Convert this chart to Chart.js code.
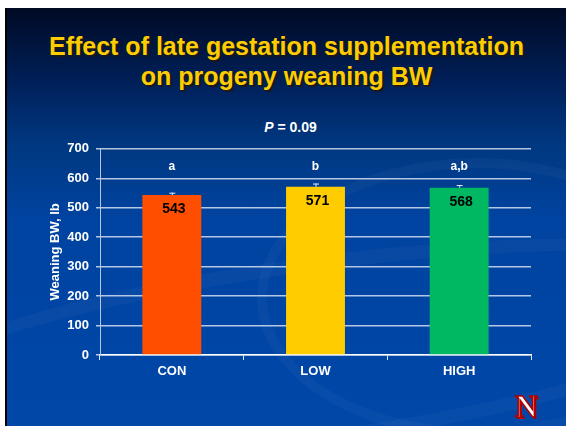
<!DOCTYPE html>
<html>
<head>
<script src="https://cdn.jsdelivr.net/npm/chart.js"></script>
<style>
  html, body { margin: 0; padding: 0; background: #fff; width: 566px; height: 426px; overflow: hidden; }
  #slide {
    position: absolute; left: 5px; top: 8px; width: 561px; height: 418px;
    border-left: 2px solid #000; box-sizing: border-box; overflow: hidden;
    background: linear-gradient(to bottom, #000a24 0%, #00205a 18%, #00377f 32%, #0043a0 50%, #0047a8 100%);
    font-family: "Liberation Sans", Arial, sans-serif;
  }
  .swoosh { position: absolute; border-radius: 50%; border: 14px solid rgba(255,255,255,0.03); }
  #title {
    position: absolute; left: 0; top: 23px; width: 100%; text-align: center;
    color: #ffcc00; font-weight: bold; font-size: 25px; line-height: 30px;
    text-shadow: 2px 2px 1px #1a1a1a;
  }
  #pval { position: absolute; left: 0; top: 111px; width: 100%; text-align: center; color: #fff; font-weight: bold; font-size: 14px; margin-left: 4px; }
  #wrap { position: absolute; left: 41px; top: 126px; width: 485px; height: 256px; }
  #logo {
    position: absolute; left: 508px; top: 381px; font-family: "Liberation Serif", "DejaVu Serif", serif;
    font-weight: bold; font-size: 31px; color: #fff; -webkit-text-stroke: 1.5px #b00000;
    text-shadow: 1px 1px 0 #7a0000, 2px 2px 0 #c00000;
  }
</style>
</head>
<body>
<div id="slide">
  <div class="swoosh" style="left:-160px; top:250px; width:900px; height:160px; transform:rotate(-8deg);"></div>
  <div class="swoosh" style="left:250px; top:150px; width:420px; height:260px; border-width:10px;"></div>
  <div id="title">Effect of late gestation supplementation<br>on progeny weaning BW</div>
  <div id="pval"><i>P</i> = 0.09</div>
  <div id="wrap"><canvas id="chart"></canvas></div>
  <div id="logo">N</div>
</div>
<script>
const categories = ["CON", "LOW", "HIGH"];
const weaningBW = [543, 571, 568];
const errors = [8, 11, 9];
const letters = ["a", "b", "a,b"];
const letterLevel = 640;
const barColors = ["#ff4e00", "#ffcc00", "#00b862"];

const extras = {
  id: "extras",
  afterDatasetsDraw(chart) {
    const ctx = chart.ctx;
    const y = chart.scales.y;
    const meta = chart.getDatasetMeta(0);
    ctx.save();
    meta.data.forEach((bar, i) => {
      const x = bar.x;
      const top = y.getPixelForValue(weaningBW[i]);
      const hi = y.getPixelForValue(weaningBW[i] + errors[i]);
      // error bar
      ctx.strokeStyle = "#e8ecf4";
      ctx.lineWidth = 1;
      ctx.beginPath();
      ctx.moveTo(x + 0.5, top);
      ctx.lineTo(x + 0.5, hi);
      ctx.moveTo(x - 2.5, hi + 0.5);
      ctx.lineTo(x + 3.5, hi + 0.5);
      ctx.stroke();
      // value label
      ctx.fillStyle = "#000";
      ctx.font = "bold 14px 'Liberation Sans', Arial";
      ctx.textAlign = "center";
      ctx.textBaseline = "middle";
      ctx.fillText(String(weaningBW[i]), x + 2, top + 14);
      // letters
      ctx.fillStyle = "#fff";
      ctx.font = "bold 12px 'Liberation Sans', Arial";
      ctx.fillText(letters[i], x, y.getPixelForValue(letterLevel));
    });
    ctx.restore();
  }
};

new Chart(document.getElementById("chart"), {
  type: "bar",
  data: {
    labels: categories,
    datasets: [{
      data: weaningBW,
      backgroundColor: barColors,
      borderWidth: 0,
      categoryPercentage: 1,
      barPercentage: 0.41
    }]
  },
  options: {
    responsive: true,
    maintainAspectRatio: false,
    animation: false,
    layout: { padding: { top: 7, right: 2 } },
    plugins: { legend: { display: false }, tooltip: { enabled: false } },
    scales: {
      x: {
        afterFit: (s) => { s.height = 35; },
        grid: { display: true, drawOnChartArea: false, color: "#dfe6f2", tickLength: 5, offset: true },
        border: { color: "#ffffff", width: 1.5 },
        ticks: { color: "#ffffff", font: { family: "'Liberation Sans', Arial", weight: "bold", size: 13 }, padding: 4 }
      },
      y: {
        min: 0, max: 700,
        afterFit: (s) => { s.width = 52; },
        grid: { color: "rgba(225,232,245,0.8)", lineWidth: 1.5, tickLength: 4 },
        border: { color: "#b8c6e0", width: 1 },
        ticks: { stepSize: 100, color: "#ffffff", font: { family: "'Liberation Sans', Arial", weight: "bold", size: 13 }, padding: 7 },
        title: { display: true, text: "Weaning BW, lb", color: "#ffffff", font: { family: "'Liberation Sans', Arial", weight: "bold", size: 13 }, padding: { top: 0, bottom: 0 } }
      }
    }
  },
  plugins: [extras]
});
</script>
</body>
</html>
